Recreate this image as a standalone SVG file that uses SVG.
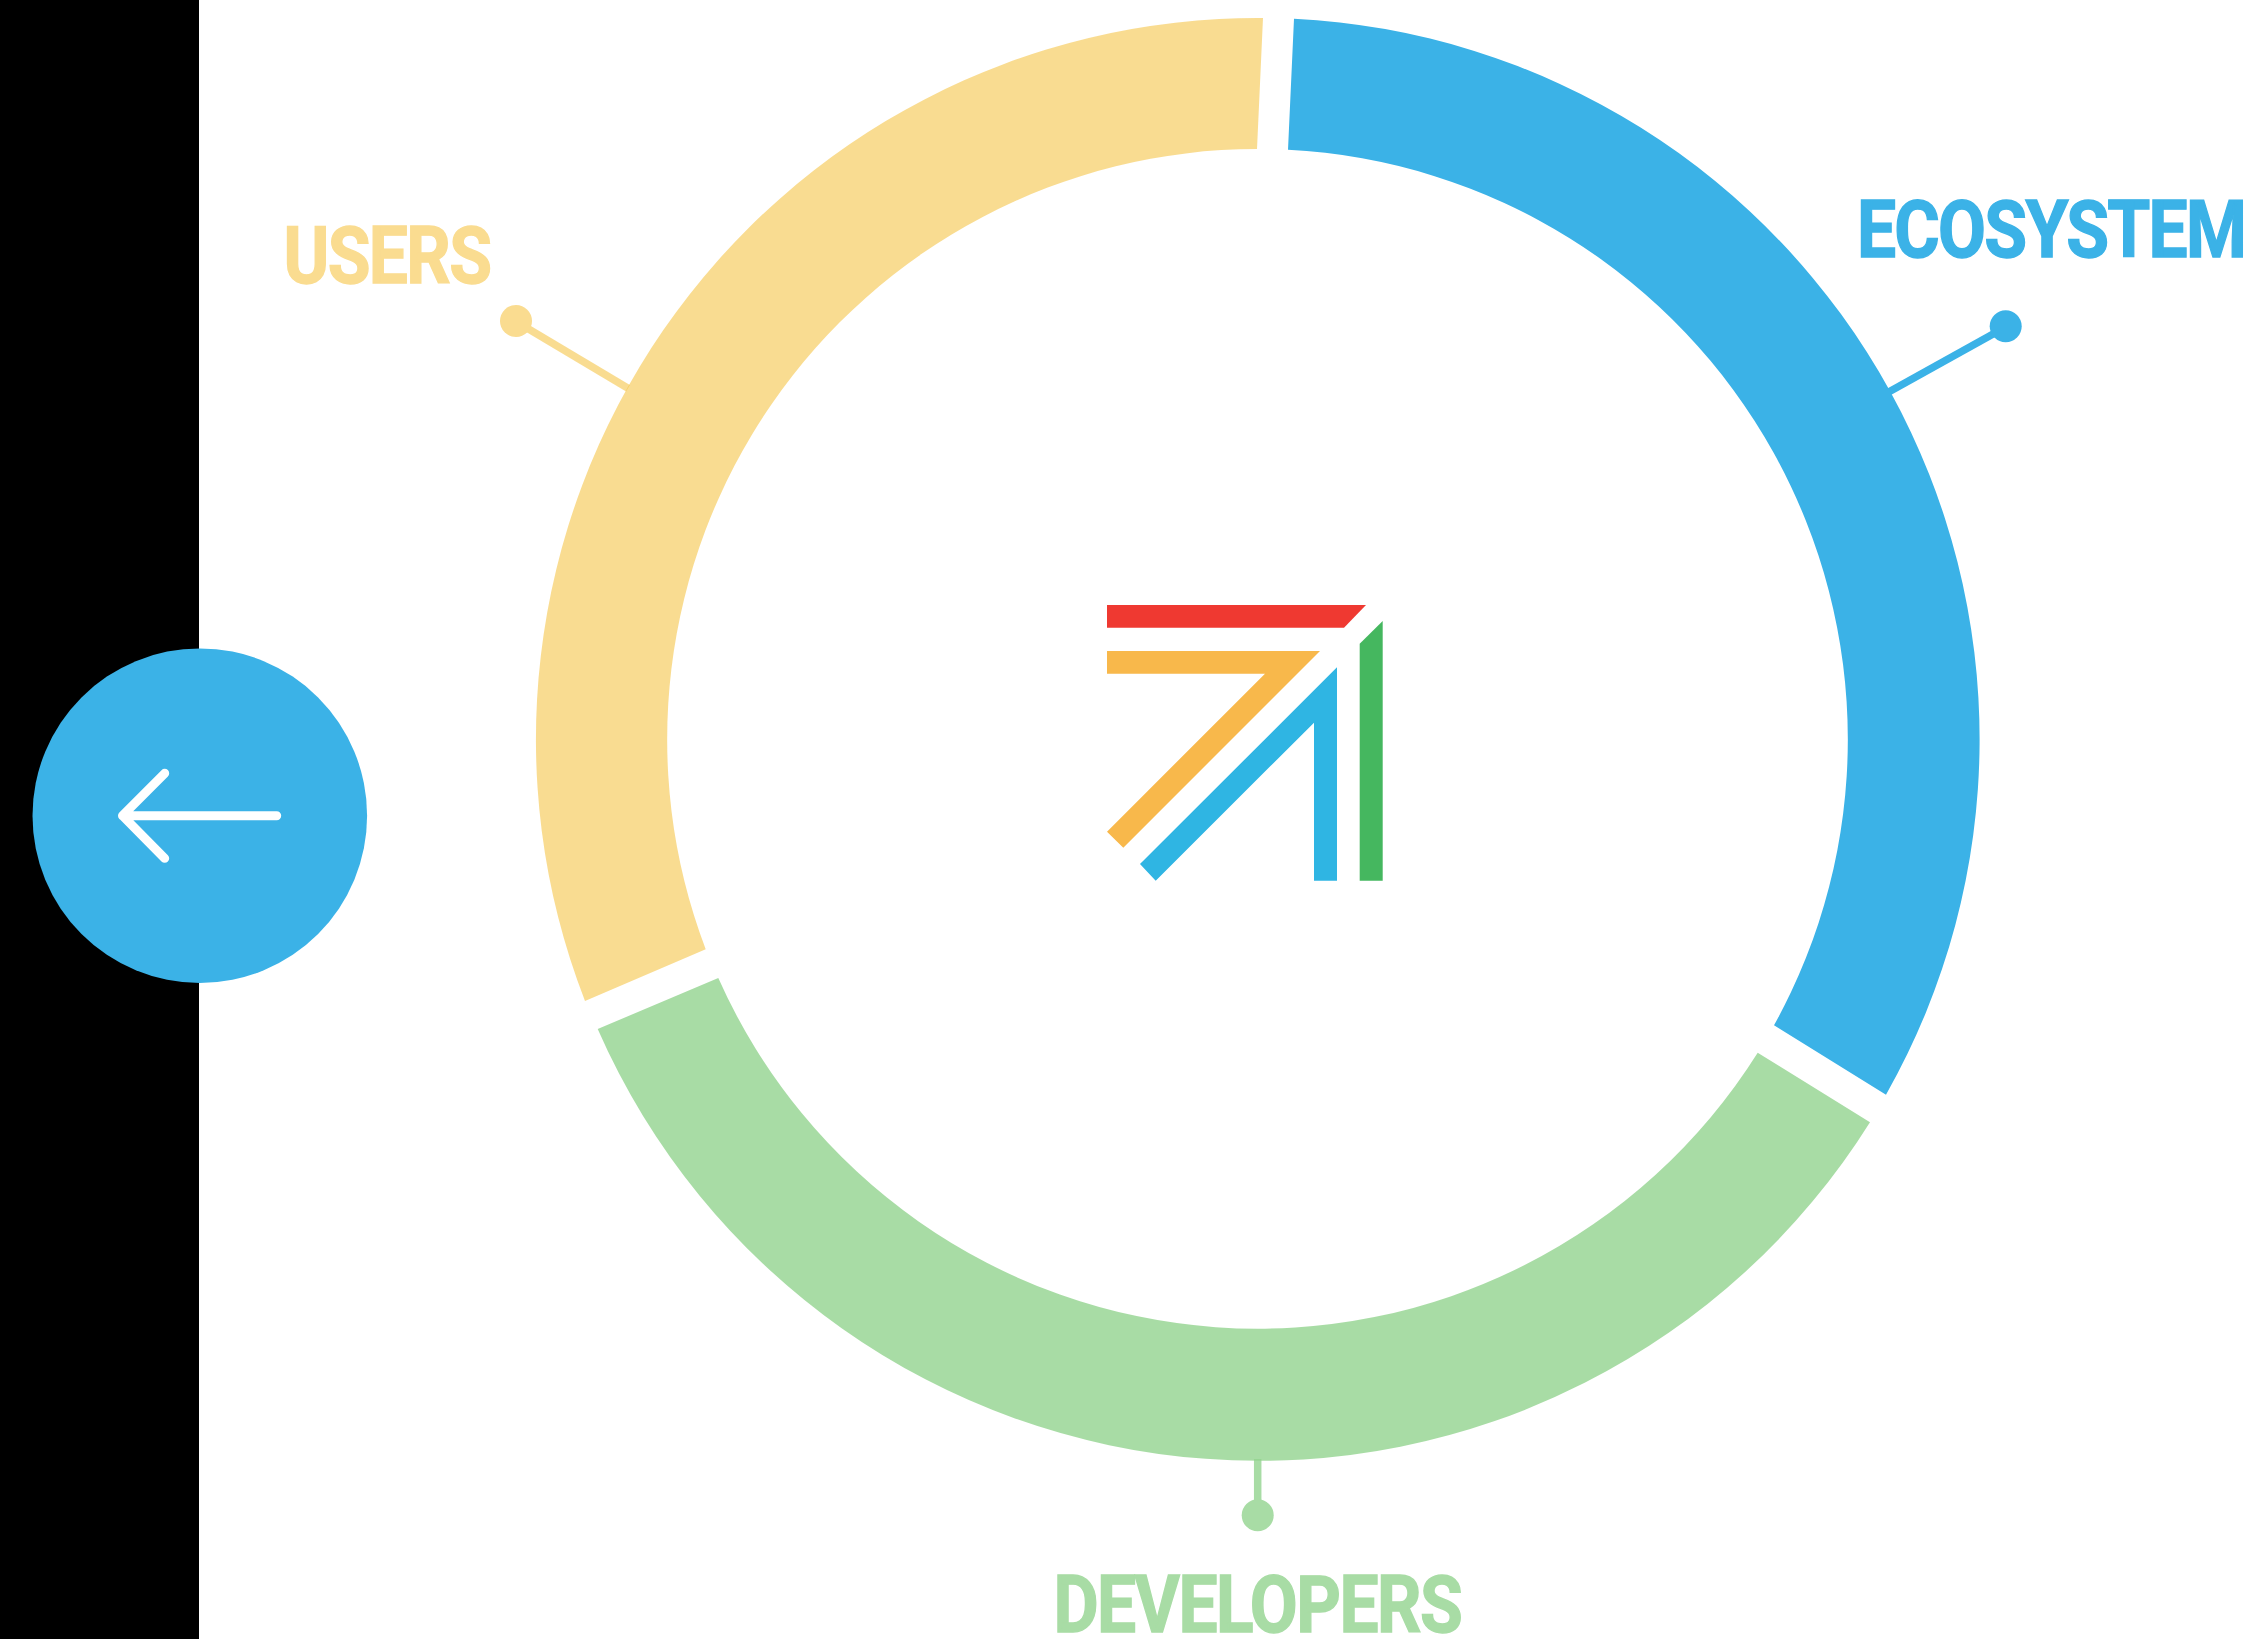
<svg xmlns="http://www.w3.org/2000/svg" width="2260" height="1639" viewBox="0 0 2260 1639">
  <style>
    .lbl { font-family: Roboto, "Liberation Sans", sans-serif; font-weight: 700; font-size: 79px; stroke-width: 1.4; }
    .blue { fill: #3bb2e7; }
    .yellow { fill: #f5c548; fill-opacity: .6; }
    .yellowt { fill: #fadc90; }
    .green { fill: #92d38e; fill-opacity: .8; }
    .greent { fill: #a8dca5; }
    .ln { fill: none; stroke-width: 7.5; }
  </style>
  <rect width="2260" height="1639" fill="#ffffff"/>
  <rect id="sidebar" x="0" y="0" width="199" height="1639" fill="#000000"/>

  <g id="connectors">
    <path class="ln" d="M1886 393.5L2005.7 327" stroke="#3bb2e7"/>
    <path class="ln" d="M516 321.5L628 388.2" stroke="#f5c548" stroke-opacity=".6"/>
    <path class="ln" d="M1257.7 1459V1515" stroke="#92d38e" stroke-opacity=".8"/>
  </g>

  <g id="ecosystem">
    <path class="blue" d="M1294 18.7A721.5 721.5 0 0 1 1886 1094.7L1774 1025.3A590.5 590.5 0 0 0 1288 149.7Z"/>
    <circle class="blue" cx="2005.7" cy="326.3" r="16"/>
    <text class="lbl blue" stroke="#3bb2e7" transform="translate(1857 256.6) scale(.88 1)" textLength="443" lengthAdjust="spacing">ECOSYSTEM</text>
  </g>

  <g id="users">
    <path class="yellow" d="M1263 18A721.5 721.5 0 0 0 585 1001L705.7 949.3A590.5 590.5 0 0 1 1257 149Z"/>
    <circle class="yellowt" cx="516" cy="321" r="16"/>
    <text class="lbl yellowt" stroke="#fadc90" transform="translate(283.5 282.9) scale(.88 1)" textLength="237" lengthAdjust="spacing">USERS</text>
  </g>

  <g id="developers">
    <path class="green" d="M597.7 1029A721.5 721.5 0 0 0 1870 1122.2L1757.7 1052.7A590.5 590.5 0 0 1 718.3 978Z"/>
    <circle class="greent" cx="1257.7" cy="1515.3" r="16"/>
    <text class="lbl greent" stroke="#a8dca5" transform="translate(1053.5 1631.9) scale(.88 1)" textLength="465" lengthAdjust="spacing">DEVELOPERS</text>
  </g>

  <g id="logo">
    <path fill="#ef3931" d="M1107 605H1366L1344 627.7H1107Z"/>
    <path fill="#f8b84b" d="M1107 651H1320L1123.3 847.7L1107 831.7L1265 673.7H1107Z"/>
    <path fill="#2fb5e3" d="M1337 667.3V880.7H1314V722.7L1155.7 880.7L1140 864Z"/>
    <path fill="#45b75f" d="M1382.7 621V880.7H1359.7V643.7Z"/>
  </g>

  <g id="back-button">
    <circle class="blue" cx="199.8" cy="815.7" r="167.3"/>
    <path d="M164.7 773.3L122.5 815.7L164.7 858.3M122.5 815.7H276.7" fill="none" stroke="#ffffff" stroke-width="9" stroke-linecap="round" stroke-linejoin="round"/>
  </g>
</svg>
